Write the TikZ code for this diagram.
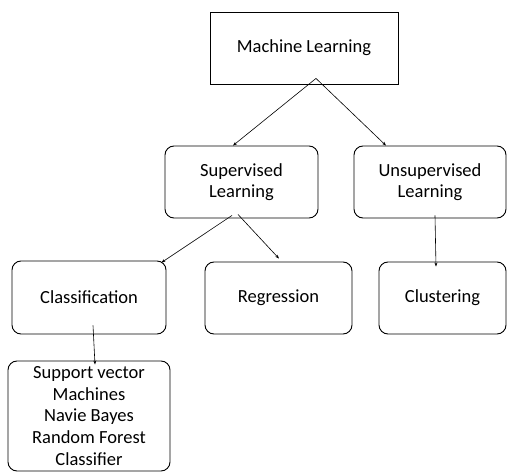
\documentclass[tikz,border=0pt]{standalone}
\usepackage{fontspec}
\setmainfont{Carlito}
\usetikzlibrary{arrows.meta,calc}
\begin{document}
\begin{tikzpicture}[x=1pt,y=1pt,
  box/.style={draw,line width=0.9pt,align=center,inner sep=0pt,font=\fontsize{18.5}{21.6}\selectfont},
  rbox/.style={box,rounded corners=9pt},
  arr/.style={line width=0.6pt,-{Stealth[length=4pt,width=3pt]}}]
\useasboundingbox (0,0) rectangle (507,472);
\node[box,minimum width=188pt,minimum height=72pt] (ml) at (304,424) {Machine Learning};
\node[rbox,minimum width=153pt,minimum height=72pt] (sup) at (241.5,290) {Supervised\\Learning};
\node[rbox,minimum width=152pt,minimum height=72pt] (uns) at (430,290) {Unsupervised\\Learning};
\node[rbox,minimum width=154pt,minimum height=73pt] (cls) at (89,174.5) {Classification};
\node[rbox,minimum width=147pt,minimum height=72pt] (reg) at (278.5,174) {Regression};
\node[rbox,minimum width=127pt,minimum height=72pt] (clu) at (442.5,174) {Clustering};
\node[rbox,minimum width=162pt,minimum height=110pt] (svm) at (89,56) {Support vector\\Machines\\Navie Bayes\\Random Forest\\Classifier};
\coordinate (mlo) at ($(ml.south)+(12,6)$);
\draw[arr] (mlo) -- ($(sup.north)+(-8.5,0)$);
\draw[arr] (mlo) -- ($(uns.north)+(-44,0)$);
\draw[arr] ($(sup.south)+(-9.5,3)$) -- ($(cls.north east)+(-5,-2)$);
\draw[arr] ($(sup.south)+(-3.5,4)$) -- ($(reg.north)+(0.5,3)$);
\draw[arr] ($(uns.south)+(5,3)$) -- ($(clu.north)+(-6.5,-5)$);
\draw[arr] ($(cls.south)+(4,9)$) -- ($(svm.north)+(6,-4)$);
\end{tikzpicture}
\end{document}
